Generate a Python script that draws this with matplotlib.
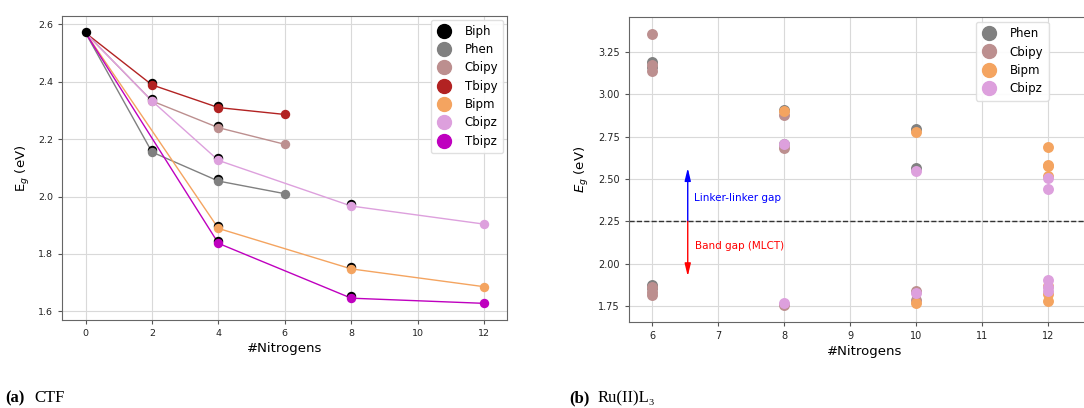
import matplotlib.pyplot as plt
import numpy as np
from matplotlib.lines import Line2D

# ---- panel (a): CTF ----
start = 2.57
ctf_names = ['Biph', 'Phen', 'Cbipy', 'Tbipy', 'Bipm', 'Cbipz', 'Tbipz']
ctf_colors = ['black', 'grey', 'rosybrown', 'firebrick', 'sandybrown', 'plum', 'm']

phen_x = [2, 4, 6]
phen_y = [2.155, 2.054, 2.010]
cbipy_x = [2, 4, 6]
cbipy_y = [2.333, 2.240, 2.182]
tbipy_x = [2, 4, 6]
tbipy_y = [2.389, 2.310, 2.286]
bipm_x = [4, 8, 12]
bipm_y = [1.889, 1.748, 1.686]
cbipz_x = [2, 4, 8, 12]
cbipz_y = [2.333, 2.126, 1.967, 1.904]
tbipz_x = [4, 8, 12]
tbipz_y = [1.837, 1.646, 1.628]

# black (Biph) markers sitting under the coloured ones
biph_x = [0, 2, 2, 2, 4, 4, 4, 4, 4, 4, 8, 8, 8]
biph_y = [2.572, 2.396, 2.340, 2.162, 2.317, 2.247, 2.133, 2.061, 1.896, 1.844, 1.974, 1.755, 1.653]

# ---- panel (b): Ru(II)L3 ----
ru_names = ['Phen', 'Cbipy', 'Bipm', 'Cbipz']
ru_colors = ['grey', 'rosybrown', 'sandybrown', 'plum']
ru_phen_x = [6, 6, 6, 6, 8, 8, 10, 10]
ru_phen_y = [3.19, 3.16, 1.875, 1.855, 2.905, 2.705, 2.795, 2.562]
ru_cbipy_x = [6, 6, 6, 6, 6, 6, 8, 8, 8, 10, 10]
ru_cbipy_y = [3.358, 3.175, 3.140, 1.86, 1.835, 1.815, 2.876, 2.683, 1.755, 1.836, 1.785]
ru_bipm_x = [8, 10, 10, 12, 12, 12, 12, 12, 12]
ru_bipm_y = [2.900, 2.775, 1.765, 2.686, 2.580, 2.515, 1.865, 1.821, 1.780]
ru_cbipz_x = [8, 8, 10, 10, 12, 12, 12, 12, 12]
ru_cbipz_y = [2.706, 1.770, 2.547, 1.828, 2.505, 2.438, 1.905, 1.860, 1.838]
ru_bipm_top_x = [12]
ru_bipm_top_y = [2.578]
gap_line = 2.25

W, H = 1084, 408
fig = plt.figure(figsize=(W / 100, H / 100), dpi=100)

def frac(x0, y0, x1, y1):
    return [x0 / W, 1 - y1 / H, (x1 - x0) / W, (y1 - y0) / H]

grid_kw = dict(color='#d9d9d9', linewidth=0.8)
leg_kw = dict(fontsize=8.5, labelspacing=0.45, handlelength=1.3, handletextpad=1.1,
              borderpad=0.45, framealpha=0.9, edgecolor='#dddddd')

# ----- left panel -----
ax = fig.add_axes(frac(62, 16, 507, 320))
series = [(phen_x, phen_y), (cbipy_x, cbipy_y), (tbipy_x, tbipy_y),
          (bipm_x, bipm_y), (cbipz_x, cbipz_y), (tbipz_x, tbipz_y)]
for (xs, ys), c in zip(series, ctf_colors[1:]):
    ax.plot([0] + xs, [start] + ys, color=c, linewidth=1.0, zorder=2)
ax.scatter(biph_x, biph_y, s=46, color='black', zorder=3, linewidths=0)
for (xs, ys), c in zip(series, ctf_colors[1:]):
    ax.scatter(xs, ys, s=46, color=c, zorder=4, linewidths=0)
ax.set_xlim(-0.71, 12.69)
ax.set_ylim(1.570, 2.629)
ax.set_xticks([0, 2, 4, 6, 8, 10, 12])
ax.set_yticks([1.6, 1.8, 2.0, 2.2, 2.4, 2.6])
ax.grid(True, **grid_kw)
ax.set_axisbelow(True)
ax.tick_params(labelsize=6.8, length=3, color='#555555', labelcolor='#222222')
for sp in ax.spines.values():
    sp.set_color('#666666')
ax.set_xlabel('#Nitrogens', fontsize=9.5, labelpad=3)
ax.set_ylabel('E$_g$ (eV)', fontsize=9.5, labelpad=4)
handles = [Line2D([], [], marker='o', linestyle='', markersize=10,
                  markerfacecolor=c, markeredgecolor=c) for c in ctf_colors]
ax.legend(handles, ctf_names, loc='upper right', borderaxespad=0.3, **leg_kw)

# ----- right panel -----
bx = fig.add_axes(frac(629, 17, 1100, 322))
ru_series = [(ru_phen_x, ru_phen_y), (ru_cbipy_x, ru_cbipy_y),
             (ru_bipm_x, ru_bipm_y), (ru_cbipz_x, ru_cbipz_y)]
for (xs, ys), c in zip(ru_series, ru_colors):
    bx.scatter(xs, ys, s=62, color=c, linewidths=0, zorder=3)
bx.scatter(ru_bipm_top_x, ru_bipm_top_y, s=62, color=ru_colors[2], linewidths=0, zorder=3)
bx.axhline(gap_line, color='#333333', linestyle='--', linewidth=1.0, zorder=2)
arrow_style = '-|>,head_length=0.75,head_width=0.18'
bx.annotate('', xy=(6.54, 2.565), xytext=(6.54, gap_line),
            arrowprops=dict(arrowstyle=arrow_style, color='blue', lw=1.0,
                            shrinkA=0, shrinkB=0))
bx.annotate('', xy=(6.54, 1.925), xytext=(6.54, gap_line),
            arrowprops=dict(arrowstyle=arrow_style, color='red', lw=1.0,
                            shrinkA=0, shrinkB=0))
bx.text(6.63, 2.386, 'Linker-linker gap', color='blue', fontsize=7.5, va='center')
bx.text(6.65, 2.105, 'Band gap (MLCT)', color='red', fontsize=7.5, va='center')
bx.set_xlim(5.65, 5.65 + (1100 - 629) / 66)
bx.set_ylim(1.655, 3.457)
bx.set_xticks([6, 7, 8, 9, 10, 11, 12])
bx.set_yticks([1.75, 2.0, 2.25, 2.5, 2.75, 3.0, 3.25])
bx.set_yticklabels(['1.75', '2.00', '2.25', '2.50', '2.75', '3.00', '3.25'])
bx.grid(True, **grid_kw)
bx.set_axisbelow(True)
bx.tick_params(labelsize=7, length=3, color='#555555', labelcolor='#222222')
for sp in bx.spines.values():
    sp.set_color('#666666')
bx.set_xlabel('#Nitrogens', fontsize=9.5, labelpad=3)
bx.set_ylabel('$E_g$ (eV)', fontsize=9.5, labelpad=5)
handles = [Line2D([], [], marker='o', linestyle='', markersize=10,
                  markerfacecolor=c, markeredgecolor=c) for c in ru_colors]
bx.legend(handles, ru_names, loc='upper left',
          bbox_to_anchor=((976 - 629) / (1100 - 629), 1 - 5 / 305),
          borderaxespad=0, **leg_kw)

# captions
serif = ['Liberation Serif', 'DejaVu Serif']
cy = 1 - 398 / H
fig.text(5 / W, cy, '(a)', fontsize=12, va='center', family=serif, fontweight='bold')
fig.text(34 / W, cy, 'CTF', fontsize=12, va='center', family=serif)
fig.text(569 / W, cy, '(b)', fontsize=12, va='center', family=serif, fontweight='bold')
fig.text(598 / W, cy, 'Ru(II)L\u2083', fontsize=12, va='center', family=serif)

fig.savefig('out.png', dpi=100)
